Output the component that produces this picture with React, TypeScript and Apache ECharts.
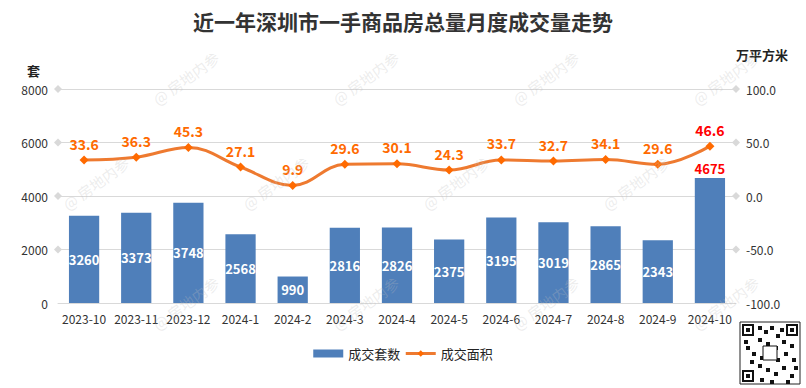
import React, { useEffect, useRef } from "react";
import * as echarts from "echarts";

const categories = ["2023-10","2023-11","2023-12","2024-1","2024-2","2024-3","2024-4","2024-5","2024-6","2024-7","2024-8","2024-9","2024-10"];
const units = [3260, 3373, 3748, 2568, 990, 2816, 2826, 2375, 3195, 3019, 2865, 2343, 4675];
const area = [33.6, 36.3, 45.3, 27.1, 9.9, 29.6, 30.1, 24.3, 33.7, 32.7, 34.1, 29.6, 46.6];
const leftTicks = [2000, 4000, 6000, 8000];

const FONT = "'Noto Sans CJK SC', 'Microsoft YaHei', sans-serif";

export default function App() {
  const ref = useRef<HTMLDivElement>(null);
  useEffect(() => {
    const chart = echarts.init(ref.current!, null, { renderer: "svg" });
    const last = units.length - 1;
    const wm: any[] = [];
    const wmPos = [[150, 95], [330, 95], [510, 95], [690, 95], [60, 200], [240, 200], [420, 200], [600, 200], [150, 320], [330, 320], [510, 320], [690, 320]];
    wmPos.forEach(([x, y]) => wm.push({
      type: "text", x, y, rotation: Math.PI / 5, silent: true, z: 100,
      style: { text: "@ 房地内参", fill: "rgba(190,190,190,0.28)", font: `15px ${FONT}` },
    }));
    const qr: any[] = [
      { type: "rect", shape: { x: 740, y: 322, width: 60, height: 62 }, style: { fill: "#fff", stroke: "#222", lineWidth: 1 } },
    ];
    [[742, 324], [786, 324], [742, 370]].forEach(([x, y]) => {
      qr.push({ type: "rect", shape: { x, y, width: 12, height: 12 }, style: { fill: "#111" } });
      qr.push({ type: "rect", shape: { x: x + 2, y: y + 2, width: 8, height: 8 }, style: { fill: "#fff" } });
      qr.push({ type: "rect", shape: { x: x + 4, y: y + 4, width: 4, height: 4 }, style: { fill: "#111" } });
    });
    const pattern = [
      [758,326],[764,330],[770,326],[776,334],[758,338],[766,342],[774,346],[782,340],[790,344],[746,346],
      [752,352],[760,356],[768,352],[776,358],[784,352],[792,358],[758,364],[766,368],[774,372],[782,366],
      [790,374],[760,378],[770,380],[786,380],[794,366],[750,360],[780,328],[744,340]
    ];
    pattern.forEach(([x, y]) => qr.push({ type: "rect", shape: { x, y, width: 4, height: 4 }, style: { fill: "#111" } }));
    qr.push({ type: "rect", shape: { x: 763, y: 346, width: 14, height: 14 }, style: { fill: "#fff", stroke: "#111", lineWidth: 1 } });

    chart.setOption({
      animation: false,
      title: {
        text: "近一年深圳市一手商品房总量月度成交量走势",
        left: "center", top: 5,
        textStyle: { fontSize: 21, fontWeight: "bold", color: "#333", fontFamily: FONT },
      },
      textStyle: { fontFamily: FONT },
      grid: { left: 58, right: 70, top: 89, bottom: 85, containLabel: false },
      legend: {
        bottom: 23, left: "center", itemGap: 4, itemWidth: 30, itemHeight: 8,
        textStyle: { fontSize: 13, color: "#222", fontFamily: FONT },
        data: [
          { name: "成交套数", icon: "rect" },
          { name: "成交面积", itemStyle: { color: "#FF6A00" }, lineStyle: { width: 3, color: "#EE7A30" } },
        ],
      },
      xAxis: {
        type: "category", data: categories,
        axisLine: { lineStyle: { color: "#d9d9d9" } },
        axisTick: { show: false },
        axisLabel: { color: "#333", fontSize: 12, margin: 9, interval: 0 },
      },
      yAxis: [
        {
          type: "value", min: 0, max: 8000, interval: 2000,
          name: "套", nameLocation: "end", nameGap: 12,
          nameTextStyle: { color: "#222", fontSize: 13, fontWeight: "bold", align: "right", padding: [0, 18, 0, 0] },
          axisLine: { show: false }, axisTick: { show: false },
          splitLine: { show: false },
          axisLabel: { color: "#333", fontSize: 12, margin: 10, formatter: (v: number) => String(v) },
        },
        {
          type: "value", min: -100, max: 100, interval: 50,
          name: "万平方米", nameLocation: "end", nameGap: 22,
          nameTextStyle: { color: "#222", fontSize: 13, fontWeight: "bold", align: "left", padding: [0, 0, 6, 0] },
          axisLine: { show: false }, axisTick: { show: false },
          splitLine: { show: false },
          axisLabel: { color: "#333", fontSize: 12, margin: 10, formatter: (v: number) => v.toFixed(1) },
        },
      ],
      series: [
        {
          name: "成交套数", type: "bar", yAxisIndex: 0, barWidth: "58%",
          itemStyle: { color: "#4F7FBA" },
          data: units.map((v, i) => i === last
            ? { value: v, label: { position: "top", color: "#FF0000", distance: 3 } }
            : v),
          label: {
            show: true, position: "inside", color: "#fff", fontWeight: "bold", fontSize: 13,
          },
          markLine: {
            silent: true, symbol: ["diamond", "diamond"], symbolSize: 8,
            lineStyle: { color: "#d9d9d9", type: "solid", width: 1 },
            itemStyle: { color: "#d4d4d4" },
            label: { show: false }, emphasis: { disabled: true },
            data: leftTicks.map((v) => ({ yAxis: v })),
            z: 0,
          },
          z: 2,
        },
        {
          name: "成交面积", type: "line", yAxisIndex: 1, smooth: 0.4,
          symbol: "diamond", symbolSize: 9,
          lineStyle: { color: "#EE7A30", width: 3 },
          itemStyle: { color: "#FF6A00" },
          data: area.map((v, i) => i === last
            ? { value: v, label: { color: "#FF0000" } }
            : v),
          label: { show: true, position: "top", color: "#FF6A00", fontWeight: "bold", fontSize: 14, distance: 5 },
          z: 5,
        },
      ],
      graphic: [...wm, ...qr],
    });
    return () => chart.dispose();
  }, []);
  return <div ref={ref} style={{ width: 806, height: 388, position: "absolute", left: 0, top: 0 }} />;
}
